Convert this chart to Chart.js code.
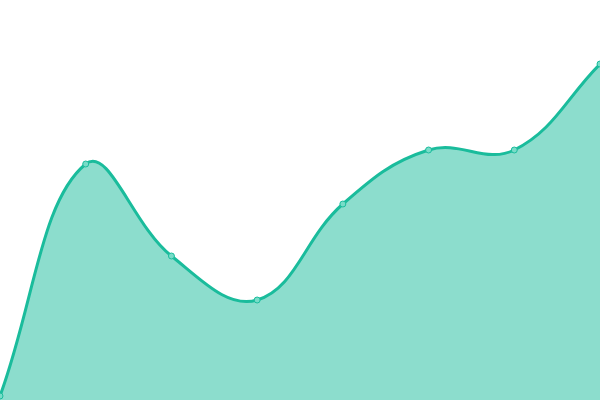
<!DOCTYPE html>
<html>
<head>
<meta charset="utf-8">
<script src="https://cdn.jsdelivr.net/npm/chart.js@4"></script>
<style>
  html, body { margin: 0; padding: 0; background: #fff; }
  #wrap { width: 600px; height: 400px; }
</style>
</head>
<body>
<div id="wrap"><canvas id="chartCanvas"></canvas></div>
<script>
// Data (axes are hidden)
const labels = ['1', '2', '3', '4', '5', '6', '7', '8'];
const values = [1, 59, 36, 25, 49, 62.5, 62.5, 84];

const lineColor = 'rgba(26, 188, 156, 1)';
const fillColor = 'rgba(26, 188, 156, 0.5)';

new Chart(document.getElementById('chartCanvas'), {
    type: 'line',
    data: {
        labels: labels,
        datasets: [{
            data: values,
            borderColor: lineColor,
            backgroundColor: fillColor,
            borderWidth: 3,
            fill: true,
            tension: 0.4,
            pointRadius: 3,
            pointBorderWidth: 1,
            pointBackgroundColor: 'rgba(120, 220, 200, 1)',
            pointBorderColor: lineColor
        }]
    },
    options: {
        responsive: true,
        maintainAspectRatio: false,
        animation: false,
        // no auto padding so the first/last points sit on the canvas edges
        layout: { padding: 0, autoPadding: false },
        plugins: {
            legend: { display: false },
            tooltip: { enabled: false }
        },
        scales: {
            x: { display: false, offset: false },
            y: { display: false, min: 0, max: 100 }
        }
    }
});
</script>
</body>
</html>
